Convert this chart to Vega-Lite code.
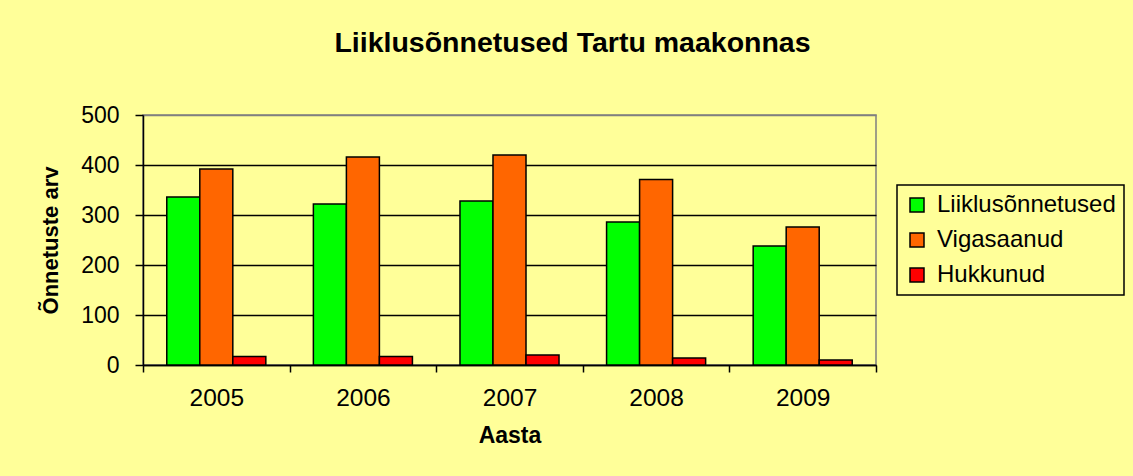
{
  "$schema": "https://vega.github.io/schema/vega-lite/v6.json",
  "autosize": "none",
  "width": 733,
  "height": 250,
  "padding": {"left": 143, "top": 115, "right": 257, "bottom": 111},
  "background": "#FFFF99",
  "title": {
    "text": "Liiklusõnnetused Tartu maakonnas",
    "font": "Liberation Sans",
    "fontSize": 28.5,
    "fontWeight": "bold",
    "color": "black",
    "anchor": "middle",
    "frame": "group",
    "dx": 63,
    "offset": 47
  },
  "data": {
    "values": [
      {"aasta": "2005", "seeria": "Liiklusõnnetused", "arv": 336},
      {"aasta": "2005", "seeria": "Vigasaanud", "arv": 392},
      {"aasta": "2005", "seeria": "Hukkunud", "arv": 17},
      {"aasta": "2006", "seeria": "Liiklusõnnetused", "arv": 322},
      {"aasta": "2006", "seeria": "Vigasaanud", "arv": 416},
      {"aasta": "2006", "seeria": "Hukkunud", "arv": 17},
      {"aasta": "2007", "seeria": "Liiklusõnnetused", "arv": 328},
      {"aasta": "2007", "seeria": "Vigasaanud", "arv": 420},
      {"aasta": "2007", "seeria": "Hukkunud", "arv": 20},
      {"aasta": "2008", "seeria": "Liiklusõnnetused", "arv": 286},
      {"aasta": "2008", "seeria": "Vigasaanud", "arv": 371},
      {"aasta": "2008", "seeria": "Hukkunud", "arv": 14},
      {"aasta": "2009", "seeria": "Liiklusõnnetused", "arv": 238},
      {"aasta": "2009", "seeria": "Vigasaanud", "arv": 276},
      {"aasta": "2009", "seeria": "Hukkunud", "arv": 10}
    ]
  },
  "mark": {"type": "bar", "stroke": "black", "strokeWidth": 1.5},
  "encoding": {
    "x": {
      "field": "aasta",
      "type": "nominal",
      "scale": {"paddingInner": 0, "paddingOuter": 0},
      "axis": {
        "title": "Aasta",
        "labelAngle": 0,
        "tickBand": "extent",
        "domainColor": "black",
        "domainWidth": 1.5,
        "tickColor": "black",
        "tickWidth": 1.5,
        "tickSize": 7,
        "labelPadding": 14,
        "labelFont": "Liberation Sans",
        "labelFontSize": 24.5,
        "labelColor": "black",
        "titleFont": "Liberation Sans",
        "titleFontSize": 23,
        "titleFontWeight": "bold",
        "titleColor": "black",
        "titlePadding": 15,
        "grid": false
      }
    },
    "xOffset": {
      "field": "seeria",
      "type": "nominal",
      "sort": ["Liiklusõnnetused", "Vigasaanud", "Hukkunud"],
      "scale": {"paddingInner": 0, "paddingOuter": 0.72}
    },
    "y": {
      "field": "arv",
      "type": "quantitative",
      "scale": {"domain": [0, 500], "nice": false},
      "axis": {
        "title": "Õnnetuste arv",
        "values": [0, 100, 200, 300, 400, 500],
        "domainColor": "black",
        "domainWidth": 1.5,
        "tickColor": "black",
        "tickWidth": 1.5,
        "tickSize": 8,
        "labelPadding": 16,
        "labelFont": "Liberation Sans",
        "labelFontSize": 23,
        "labelColor": "black",
        "titleFont": "Liberation Sans",
        "titleFontSize": 22,
        "titleFontWeight": "bold",
        "titleColor": "black",
        "titlePadding": 18,
        "grid": true,
        "gridColor": {"condition": {"test": "datum.value == 500", "value": "#808080"}, "value": "black"},
        "gridWidth": 1.5,
        "gridOpacity": 1
      }
    },
    "color": {
      "field": "seeria",
      "type": "nominal",
      "sort": ["Liiklusõnnetused", "Vigasaanud", "Hukkunud"],
      "scale": {
        "domain": ["Liiklusõnnetused", "Vigasaanud", "Hukkunud"],
        "range": ["#00FF00", "#FF6600", "#FF0000"]
      },
      "legend": {
        "title": null,
        "orient": "none",
        "legendX": 754,
        "legendY": 70,
        "symbolType": "square",
        "symbolSize": 196,
        "symbolStrokeColor": "black",
        "symbolStrokeWidth": 1.5,
        "symbolOpacity": 1,
        "labelFont": "Liberation Sans",
        "labelFontSize": 24,
        "labelColor": "black",
        "labelOffset": 8,
        "labelLimit": 400,
        "rowPadding": 11,
        "padding": 8,
        "strokeColor": "black",
        "fillColor": "#FFFF99"
      }
    }
  },
  "config": {
    "view": {"stroke": "#808080", "strokeWidth": 1.5, "fill": "#FFFF99"},
    "legend": {"strokeWidth": 1.5}
  }
}
